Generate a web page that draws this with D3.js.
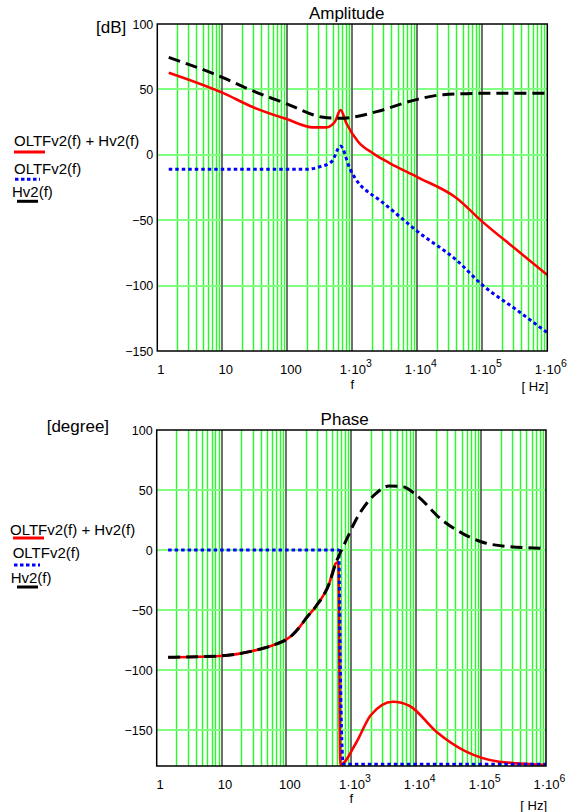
<!DOCTYPE html>
<html><head><meta charset="utf-8">
<script src="https://cdn.jsdelivr.net/npm/d3@7/dist/d3.min.js"></script>
<style>body{margin:0;background:#fff}svg{display:block}text{font-family:"Liberation Sans",Arial,sans-serif;fill:#000}</style>
</head><body>
<script>
// ---- data ----
const xTickValues = [1, 10, 100, 1e3, 1e4, 1e5, 1e6];
const ampTicks = [-150, -100, -50, 0, 50, 100];
const phaseTicks = [-150, -100, -50, 0, 50, 100];

const ampSumFreq = [1.5, 10, 30, 100, 250, 400, 540, 661, 810, 1230, 2090, 3800, 10000, 40000, 100000, 340000, 1000000];
const ampSumDb   = [62.8, 47.5, 36.3, 27.1, 21, 21, 25.3, 34.3, 24.1, 10, 1.1, -6.5, -17, -33, -51.1, -72.8, -91.9];
const ampOltfFreq = [1.5, 200, 316, 480, 661, 912, 1320, 1660, 2690, 5370, 10000, 40000, 100000, 340000, 1000000];
const ampOltfDb   = [-11.1, -11.1, -9.1, -5.3, 6.7, -10.3, -23.1, -27.5, -35, -47.3, -58.5, -80.5, -99.5, -118.7, -136];
const ampHvFreq = [1.5, 10, 23.7, 100, 358, 647, 1000, 2370, 10000, 25000, 100000, 1000000];
const ampHvDb   = [74.5, 59.2, 50.8, 38.8, 28.7, 27.9, 28.7, 33, 42.4, 46, 47, 47];

const phSumFreq = [1.5, 9.5, 27, 50, 70, 100, 125, 158, 200, 282, 457, 575, 631, 676, 1175, 2000, 4370, 7940, 20400, 58900, 190000, 1000000];
const phSumDeg  = [-89.4, -88.3, -84.7, -81, -78.3, -74.5, -70.5, -64.5, -57, -47.2, -27.8, -11.1, -10, -179, -161, -137.5, -126.4, -130, -151.4, -168, -176.4, -179];
const phOltfFreq = [1.5, 640, 676, 752, 1000000];
const phOltfDeg  = [0, 0, -100, -178.5, -178.5];
const phHvFreq = [1.5, 9.5, 27, 50, 70, 100, 125, 158, 200, 282, 457, 575, 813, 1175, 2400, 3800, 6170, 10000, 25000, 51300, 100000, 270000, 1000000];
const phHvDeg  = [-89.4, -88.3, -84.7, -81, -78.3, -74.5, -70.5, -64.5, -57, -47.2, -27.8, -11.1, 6.9, 25, 47.2, 53.3, 52.8, 45.8, 25, 13.9, 6.9, 2.8, 1.4];

const legendNames = ["OLTFv2(f) + Hv2(f)", "OLTFv2(f)", "Hv2(f)"];

// ---- drawing ----
const svg = d3.select("body").append("svg").attr("width", 574).attr("height", 812);

const styles = [
  {color: "#ff0000", width: 2.6, dash: null},
  {color: "#0000ff", width: 3, dash: "3.5,3"},
  {color: "#000000", width: 3, dash: "12,6"}
];

function drawPanel(cfg) {
  const x = d3.scaleLog().domain([1, 1e6]).range([cfg.left, cfg.right]);
  const y = d3.scaleLinear().domain(cfg.yDomain).range([cfg.bottom, cfg.top]);
  const g = svg.append("g");

  // minor vertical grid
  for (let d = 0; d < 6; d++) {
    for (let m = 2; m <= 9; m++) {
      const v = m * Math.pow(10, d);
      const px = Math.round(x(v)) + 0.5;
      g.append("line").attr("x1", px).attr("x2", px).attr("y1", cfg.top).attr("y2", cfg.bottom)
        .attr("stroke", "#22ff22").attr("stroke-width", 1.4);
    }
  }
  // horizontal grid
  cfg.yTicks.forEach(t => {
    if (t > cfg.yDomain[0] && t < cfg.yDomain[1]) {
      const py = Math.round(y(t));
      g.append("line").attr("x1", cfg.left).attr("x2", cfg.right).attr("y1", py).attr("y2", py)
        .attr("stroke", "#80ff80").attr("stroke-width", 2);
    }
  });
  // decade lines
  xTickValues.slice(1, -1).forEach(v => {
    const px = Math.round(x(v));
    g.append("line").attr("x1", px).attr("x2", px).attr("y1", cfg.top).attr("y2", cfg.bottom)
      .attr("stroke", "#707070").attr("stroke-width", 2);
  });

  // series
  const line = d3.line().curve(d3.curveMonotoneX).x(d => x(d[0])).y(d => y(d[1]));
  cfg.series.forEach((s, i) => {
    const st = styles[i];
    const pts = s.f.map((f, k) => [f, s.v[k]]);
    g.append("path").datum(pts).attr("d", line).attr("fill", "none")
      .attr("stroke", st.color).attr("stroke-width", st.width)
      .attr("stroke-dasharray", st.dash).attr("stroke-linejoin", "round");
  });

  // frame
  g.append("rect").attr("x", cfg.left).attr("y", cfg.top).attr("width", cfg.right - cfg.left)
    .attr("height", cfg.bottom - cfg.top).attr("fill", "none").attr("stroke", "#000").attr("stroke-width", 1.5);

  // x axis
  const xa = g.append("g").attr("transform", `translate(3,${cfg.bottom})`)
    .call(d3.axisBottom(x).tickValues(xTickValues).tickSize(0).tickPadding(14));
  xa.select(".domain").remove();
  xa.selectAll("text").each(function(d) {
    const t = d3.select(this).text("").style("font-size", "13px").style("font-family", "Liberation Sans, Arial, sans-serif");
    const e = Math.round(Math.log10(d));
    if (e < 3) { t.text(String(d)); }
    else {
      t.append("tspan").text("1\u00b710");
      t.append("tspan").attr("dy", "-7").style("font-size", "10.5px").text(String(e));
    }
  });

  // y axis
  const ya = g.append("g").attr("transform", `translate(${cfg.left},0)`)
    .call(d3.axisLeft(y).tickValues(cfg.yTicks).tickSize(0).tickPadding(4)
      .tickFormat(v => v < 0 ? "\u2212" + Math.abs(v) : String(v)));
  ya.select(".domain").remove();
  ya.selectAll("text").style("font-size", "12.5px").style("font-family", "Liberation Sans, Arial, sans-serif");

  // labels
  svg.append("text").attr("x", cfg.titleX).attr("y", cfg.titleY).attr("text-anchor", "middle")
    .style("font-size", "17px").text(cfg.title);
  svg.append("text").attr("x", cfg.unitX).attr("y", cfg.unitY).style("font-size", "17px").text(cfg.unit);
  svg.append("text").attr("x", x(1000)).attr("y", cfg.fY).attr("text-anchor", "middle").style("font-size", "13px").text("f");
  svg.append("text").attr("x", cfg.right + 1).attr("y", cfg.hzY).attr("text-anchor", "end").style("font-size", "13px").text("[ Hz]");

  // legend
  cfg.legend.forEach((L, i) => {
    const st = styles[i];
    svg.append("text").attr("x", L.tx).attr("y", L.ty).style("font-size", "15px").text(legendNames[i]);
    svg.append("line").attr("x1", L.x1).attr("x2", L.x2).attr("y1", L.ly).attr("y2", L.ly)
      .attr("stroke", st.color).attr("stroke-width", 3).attr("stroke-dasharray", i === 1 ? "3.5,2.5" : null);
  });
}

drawPanel({
  left: 157.3, right: 547.3, top: 24, bottom: 351, yDomain: [-150, 100], yTicks: ampTicks,
  title: "Amplitude", titleX: 346.7, titleY: 18.5, unit: "[dB]", unitX: 96, unitY: 33,
  fY: 389, hzY: 390.5,
  series: [{f: ampSumFreq, v: ampSumDb}, {f: ampOltfFreq, v: ampOltfDb}, {f: ampHvFreq, v: ampHvDb}],
  legend: [
    {tx: 14, ty: 145.5, x1: 14, x2: 45, ly: 152},
    {tx: 14, ty: 174, x1: 15, x2: 40, ly: 179.3},
    {tx: 12, ty: 197, x1: 17, x2: 38, ly: 201.3}
  ]
});

drawPanel({
  left: 156.7, right: 546, top: 430, bottom: 766, yDomain: [-180, 100], yTicks: phaseTicks,
  title: "Phase", titleX: 344.7, titleY: 425, unit: "[degree]", unitX: 46.7, unitY: 432,
  fY: 803, hzY: 810,
  series: [{f: phSumFreq, v: phSumDeg}, {f: phOltfFreq, v: phOltfDeg}, {f: phHvFreq, v: phHvDeg}],
  legend: [
    {tx: 10, ty: 534.5, x1: 13, x2: 44, ly: 538},
    {tx: 12.7, ty: 558, x1: 14, x2: 40, ly: 565},
    {tx: 10.7, ty: 583, x1: 17, x2: 38, ly: 587}
  ]
});
</script>
</body></html>
